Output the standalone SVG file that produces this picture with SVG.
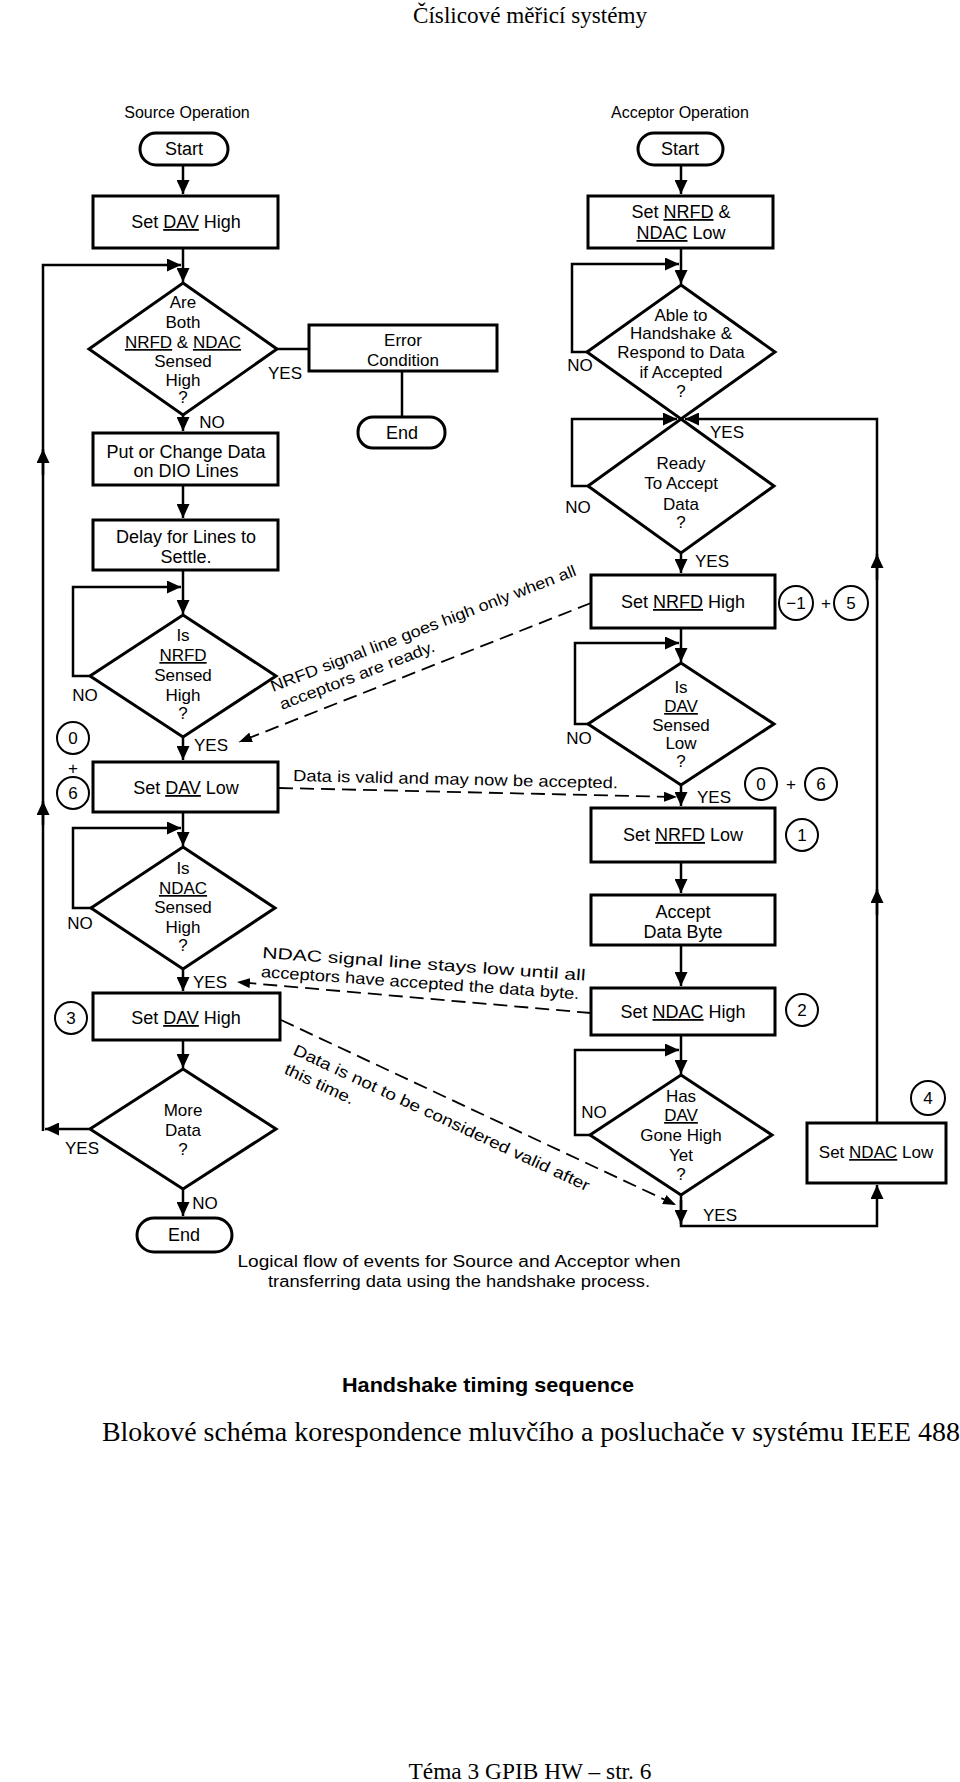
<svg xmlns="http://www.w3.org/2000/svg" width="960" height="1782" viewBox="0 0 960 1782">
<style>
.bg{fill:#fff}
.box{fill:#fff;stroke:#000;stroke-width:3}
.term{fill:#fff;stroke:#000;stroke-width:3}
.dia{fill:#fff;stroke:#000;stroke-width:3;stroke-linejoin:miter}
.ln{fill:none;stroke:#000;stroke-width:2.5}
.dash{fill:none;stroke:#000;stroke-width:1.8;stroke-dasharray:14 7}
.circ{fill:#fff;stroke:#000;stroke-width:2}
text{font-family:"Liberation Sans",Arial,sans-serif;fill:#000}
.bt{font-size:18px;text-anchor:middle}
.dt{font-size:17px;text-anchor:middle}
.lb{font-size:17px;text-anchor:middle}
.nt{font-size:17px;text-anchor:middle}
.an{font-size:16px}
.hd{font-size:16px;text-anchor:middle}
.u{text-decoration:underline}
.serif{font-family:"Liberation Serif","Times New Roman",serif;text-anchor:middle}
</style>
<defs>
<marker id="ah" markerWidth="14" markerHeight="13" refX="14" refY="6.5" orient="auto" markerUnits="userSpaceOnUse"><path d="M0,0 L14,6.5 L0,13 z" fill="#000"/></marker>
<marker id="ad" markerWidth="13" markerHeight="10" refX="13" refY="5" orient="auto" markerUnits="userSpaceOnUse"><path d="M0,0 L13,5 L0,10 z" fill="#000"/></marker>
</defs>
<rect class="bg" x="0" y="0" width="960" height="1782"/>

<!-- page texts -->
<text class="serif" x="530" y="23" font-size="23" textLength="234" lengthAdjust="spacingAndGlyphs">Číslicové měřicí systémy</text>
<text class="hd" x="187" y="118">Source Operation</text>
<text class="hd" x="680" y="118">Acceptor Operation</text>

<!-- connectors -->
<g id="connectors">
<path class="ln" d="M183,165 V194" marker-end="url(#ah)"/>
<path class="ln" d="M183,248 V282" marker-end="url(#ah)"/>
<path class="ln" d="M90,1129 H45" marker-end="url(#ah)"/>
<path class="ln" d="M43,1131 V265 H181" marker-end="url(#ah)"/>
<path class="ln" d="M43,475 V449" marker-end="url(#ah)"/>
<path class="ln" d="M43,825 V801" marker-end="url(#ah)"/>
<path class="ln" d="M277,349 H309"/>
<path class="ln" d="M402,371 V417"/>
<path class="ln" d="M183,415 V431" marker-end="url(#ah)"/>
<path class="ln" d="M183,485 V518" marker-end="url(#ah)"/>
<path class="ln" d="M183,570 V614" marker-end="url(#ah)"/>
<path class="ln" d="M90,676 H73 V587 H181" marker-end="url(#ah)"/>
<path class="ln" d="M183,737 V760" marker-end="url(#ah)"/>
<path class="ln" d="M183,812 V846" marker-end="url(#ah)"/>
<path class="ln" d="M91,908 H73 V828 H181" marker-end="url(#ah)"/>
<path class="ln" d="M183,969 V991" marker-end="url(#ah)"/>
<path class="ln" d="M183,1040 V1068" marker-end="url(#ah)"/>
<path class="ln" d="M183,1189 V1216" marker-end="url(#ah)"/>

<path class="ln" d="M681,165 V194" marker-end="url(#ah)"/>
<path class="ln" d="M681,248 V284" marker-end="url(#ah)"/>
<path class="ln" d="M587,352 H572 V264 H679" marker-end="url(#ah)"/>
<path class="ln" d="M588,486 H572 V419 H677" marker-end="url(#ah)"/>
<path class="ln" d="M877,1123 V419 H685" marker-end="url(#ah)"/>
<path class="ln" d="M877,580 V554" marker-end="url(#ah)"/>
<path class="ln" d="M877,915 V889" marker-end="url(#ah)"/>
<path class="ln" d="M681,553 V573" marker-end="url(#ah)"/>
<path class="ln" d="M681,628 V662" marker-end="url(#ah)"/>
<path class="ln" d="M588,724 H575 V643 H679" marker-end="url(#ah)"/>
<path class="ln" d="M681,785 V806" marker-end="url(#ah)"/>
<path class="ln" d="M681,862 V893" marker-end="url(#ah)"/>
<path class="ln" d="M681,945 V986" marker-end="url(#ah)"/>
<path class="ln" d="M681,1035 V1074" marker-end="url(#ah)"/>
<path class="ln" d="M590,1135 H575 V1050 H679" marker-end="url(#ah)"/>
<path class="ln" d="M681,1195 V1226 H877 V1185" marker-end="url(#ah)"/>
<path class="ln" d="M681,1200 V1224" marker-end="url(#ah)"/>

<path class="dash" d="M591,603 L239,742" marker-end="url(#ad)"/>
<path class="dash" d="M279,788 L677,797" marker-end="url(#ad)"/>
<path class="dash" d="M591,1013 L237,982" marker-end="url(#ad)"/>
<path class="dash" d="M281,1020 L676,1205" marker-end="url(#ad)"/>
</g>

<!-- connector labels -->
<g id="labels">
<text class="lb" x="285" y="379">YES</text>
<text class="lb" x="212" y="428">NO</text>
<text class="lb" x="85" y="701">NO</text>
<text class="lb" x="211" y="751">YES</text>
<text class="lb" x="80" y="929">NO</text>
<text class="lb" x="210" y="988">YES</text>
<text class="lb" x="82" y="1154">YES</text>
<text class="lb" x="205" y="1209">NO</text>
<text class="lb" x="580" y="371">NO</text>
<text class="lb" x="727" y="438">YES</text>
<text class="lb" x="578" y="513">NO</text>
<text class="lb" x="712" y="567">YES</text>
<text class="lb" x="579" y="744">NO</text>
<text class="lb" x="714" y="803">YES</text>
<text class="lb" x="594" y="1118">NO</text>
<text class="lb" x="720" y="1221">YES</text>

<text class="an" transform="translate(273,692) rotate(-21)"><tspan x="0" y="0" textLength="326" lengthAdjust="spacingAndGlyphs">NRFD signal line goes high only when all</tspan><tspan x="2" y="20" textLength="165" lengthAdjust="spacingAndGlyphs">acceptors are ready.</tspan></text>
<text class="an" transform="translate(293,781) rotate(1.3)" textLength="325" lengthAdjust="spacingAndGlyphs">Data is valid and may now be accepted.</text>
<text class="an" transform="translate(262,958) rotate(4)"><tspan x="0" y="0" textLength="324" lengthAdjust="spacingAndGlyphs">NDAC signal line stays low until all</tspan><tspan x="0" y="19" textLength="319" lengthAdjust="spacingAndGlyphs">acceptors have accepted the data byte.</tspan></text>
<text class="an" transform="translate(292,1054) rotate(25)"><tspan x="0" y="0" textLength="325" lengthAdjust="spacingAndGlyphs">Data is not to be considered valid after</tspan><tspan x="0" y="21" textLength="75" lengthAdjust="spacingAndGlyphs">this time.</tspan></text>
</g>

<!-- source nodes -->
<g id="src-start"><rect class="term" x="140" y="133" width="88" height="32" rx="16"/><text class="bt" x="184" y="155">Start</text></g>
<g id="src-set-dav-high"><rect class="box" x="93" y="196" width="185" height="52"/><text class="bt" x="186" y="228">Set <tspan class="u">DAV</tspan> High</text></g>
<g id="src-both-high"><polygon class="dia" points="183,283 277,349 183,415 89,349"/>
<text class="dt" x="183" y="308">Are</text><text class="dt" x="183" y="328">Both</text>
<text class="dt" x="183" y="348"><tspan class="u">NRFD</tspan> &amp; <tspan class="u">NDAC</tspan></text>
<text class="dt" x="183" y="367">Sensed</text><text class="dt" x="183" y="386">High</text><text class="dt" x="183" y="403">?</text></g>
<g id="src-error"><rect class="box" x="309" y="325" width="188" height="46"/><text class="dt" x="403" y="346">Error</text><text class="dt" x="403" y="366">Condition</text></g>
<g id="src-error-end"><rect class="term" x="358" y="417" width="87" height="31" rx="15"/><text class="bt" x="402" y="439">End</text></g>
<g id="src-put-data"><rect class="box" x="93" y="433" width="185" height="52"/><text class="bt" x="186" y="458">Put or Change Data</text><text class="bt" x="186" y="477">on DIO Lines</text></g>
<g id="src-delay"><rect class="box" x="93" y="520" width="185" height="50"/><text class="bt" x="186" y="543">Delay for Lines to</text><text class="bt" x="186" y="563">Settle.</text></g>
<g id="src-nrfd-high"><polygon class="dia" points="183,615 276,676 183,737 90,676"/>
<text class="dt" x="183" y="641">Is</text><text class="dt" x="183" y="661"><tspan class="u">NRFD</tspan></text>
<text class="dt" x="183" y="681">Sensed</text><text class="dt" x="183" y="701">High</text><text class="dt" x="183" y="719">?</text></g>
<g id="src-mark-0-6"><circle class="circ" cx="73" cy="738" r="16"/><text class="nt" x="73" y="744">0</text>
<text class="nt" x="73" y="774">+</text><circle class="circ" cx="73" cy="793" r="16"/><text class="nt" x="73" y="799">6</text></g>
<g id="src-set-dav-low"><rect class="box" x="93" y="762" width="185" height="50"/><text class="bt" x="186" y="794">Set <tspan class="u">DAV</tspan> Low</text></g>
<g id="src-ndac-high"><polygon class="dia" points="183,847 275,908 183,969 91,908"/>
<text class="dt" x="183" y="874">Is</text><text class="dt" x="183" y="894"><tspan class="u">NDAC</tspan></text>
<text class="dt" x="183" y="913">Sensed</text><text class="dt" x="183" y="933">High</text><text class="dt" x="183" y="951">?</text></g>
<g id="src-set-dav-high-2"><rect class="box" x="93" y="993" width="187" height="47"/><text class="bt" x="186" y="1024">Set <tspan class="u">DAV</tspan> High</text></g>
<g id="src-mark-3"><circle class="circ" cx="71" cy="1018" r="16"/><text class="nt" x="71" y="1024">3</text></g>
<g id="src-more-data"><polygon class="dia" points="183,1069 276,1129 183,1189 90,1129"/>
<text class="dt" x="183" y="1116">More</text><text class="dt" x="183" y="1136">Data</text><text class="dt" x="183" y="1155">?</text></g>
<g id="src-end"><rect class="term" x="137" y="1218" width="95" height="34" rx="17"/><text class="bt" x="184" y="1241">End</text></g>

<!-- acceptor nodes -->
<g id="acc-start"><rect class="term" x="638" y="133" width="85" height="32" rx="16"/><text class="bt" x="680" y="155">Start</text></g>
<g id="acc-set-low"><rect class="box" x="588" y="196" width="185" height="52"/><text class="bt" x="681" y="218">Set <tspan class="u">NRFD</tspan> &amp;</text><text class="bt" x="681" y="239"><tspan class="u">NDAC</tspan> Low</text></g>
<g id="acc-able"><polygon class="dia" points="681,285 775,352 681,419 587,352"/>
<text class="dt" x="681" y="321">Able to</text><text class="dt" x="681" y="339">Handshake &amp;</text>
<text class="dt" x="681" y="358">Respond to Data</text><text class="dt" x="681" y="378">if Accepted</text><text class="dt" x="681" y="397">?</text></g>
<g id="acc-ready"><polygon class="dia" points="681,419 774,486 681,553 588,486"/>
<text class="dt" x="681" y="469">Ready</text><text class="dt" x="681" y="489">To Accept</text>
<text class="dt" x="681" y="510">Data</text><text class="dt" x="681" y="528">?</text></g>
<g id="acc-set-nrfd-high"><rect class="box" x="591" y="575" width="184" height="53"/><text class="bt" x="683" y="608">Set <tspan class="u">NRFD</tspan> High</text></g>
<g id="acc-mark-m1-5"><circle class="circ" cx="796" cy="603" r="17"/><text class="nt" x="796" y="609">−1</text>
<text class="nt" x="826" y="609">+</text><circle class="circ" cx="851" cy="603" r="17"/><text class="nt" x="851" y="609">5</text></g>
<g id="acc-dav-low"><polygon class="dia" points="681,663 774,724 681,785 588,724"/>
<text class="dt" x="681" y="693">Is</text><text class="dt" x="681" y="712"><tspan class="u">DAV</tspan></text>
<text class="dt" x="681" y="731">Sensed</text><text class="dt" x="681" y="749">Low</text><text class="dt" x="681" y="767">?</text></g>
<g id="acc-mark-0-6"><circle class="circ" cx="761" cy="784" r="16"/><text class="nt" x="761" y="790">0</text>
<text class="nt" x="791" y="790">+</text><circle class="circ" cx="821" cy="784" r="16"/><text class="nt" x="821" y="790">6</text></g>
<g id="acc-set-nrfd-low"><rect class="box" x="591" y="808" width="184" height="54"/><text class="bt" x="683" y="841">Set <tspan class="u">NRFD</tspan> Low</text></g>
<g id="acc-mark-1"><circle class="circ" cx="802" cy="835" r="16"/><text class="nt" x="802" y="841">1</text></g>
<g id="acc-accept"><rect class="box" x="591" y="895" width="184" height="50"/><text class="bt" x="683" y="918">Accept</text><text class="bt" x="683" y="938">Data Byte</text></g>
<g id="acc-set-ndac-high"><rect class="box" x="591" y="988" width="184" height="47"/><text class="bt" x="683" y="1018">Set <tspan class="u">NDAC</tspan> High</text></g>
<g id="acc-mark-2"><circle class="circ" cx="802" cy="1010" r="16"/><text class="nt" x="802" y="1016">2</text></g>
<g id="acc-dav-gone-high"><polygon class="dia" points="681,1075 772,1135 681,1195 590,1135"/>
<text class="dt" x="681" y="1102">Has</text><text class="dt" x="681" y="1121"><tspan class="u">DAV</tspan></text>
<text class="dt" x="681" y="1141">Gone High</text><text class="dt" x="681" y="1161">Yet</text><text class="dt" x="681" y="1180">?</text></g>
<g id="acc-set-ndac-low"><rect class="box" x="807" y="1123" width="139" height="60"/><text class="dt" x="876" y="1158">Set <tspan class="u">NDAC</tspan> Low</text></g>
<g id="acc-mark-4"><circle class="circ" cx="928" cy="1098" r="17"/><text class="nt" x="928" y="1104">4</text></g>

<!-- captions -->
<text class="hd" x="459" y="1267" textLength="443" lengthAdjust="spacingAndGlyphs">Logical flow of events for Source and Acceptor when</text>
<text class="hd" x="459" y="1287" textLength="382" lengthAdjust="spacingAndGlyphs">transferring data using the handshake process.</text>
<text x="488" y="1392" font-size="21" font-weight="bold" text-anchor="middle" textLength="292" lengthAdjust="spacingAndGlyphs">Handshake timing sequence</text>
<text class="serif" x="531" y="1441" font-size="28" textLength="858" lengthAdjust="spacingAndGlyphs">Blokové schéma korespondence mluvčího a posluchače v systému IEEE 488</text>
<text class="serif" x="530" y="1779" font-size="23" textLength="243" lengthAdjust="spacingAndGlyphs">Téma 3 GPIB HW – str. 6</text>
</svg>
